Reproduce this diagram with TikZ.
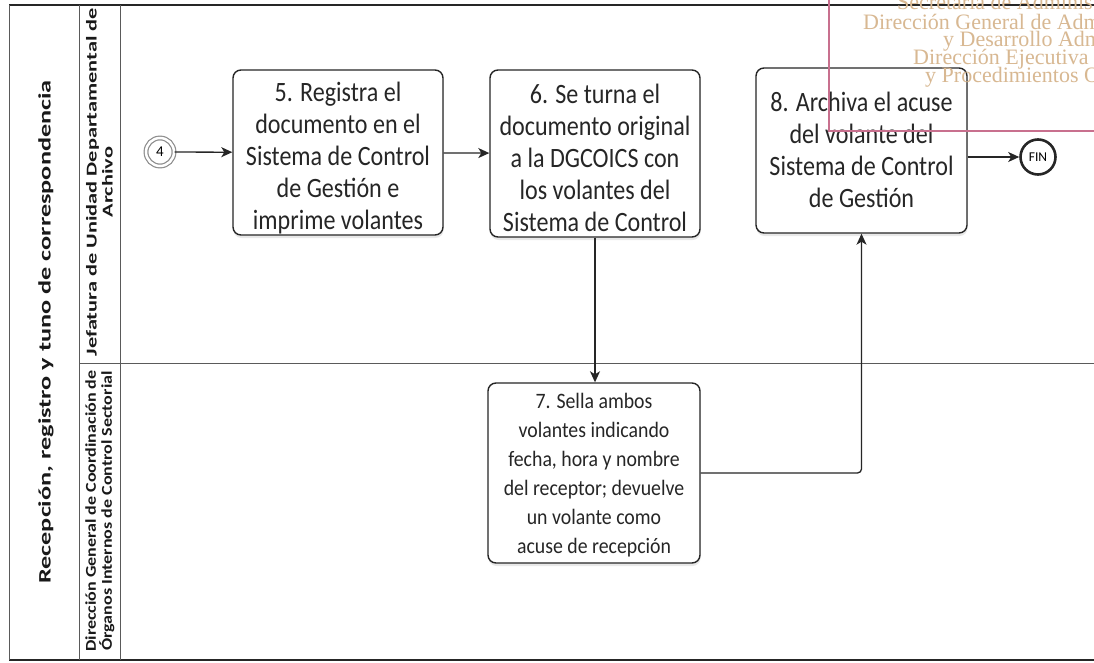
\documentclass[tikz,border=0pt]{standalone}
\usepackage{fontspec}
\setmainfont{Carlito}
\newfontfamily\boxfont[FakeStretch=0.86]{Carlito}
\newfontfamily\stampfont{Liberation Serif}
\usetikzlibrary{arrows.meta,shadows}
\definecolor{stampline}{RGB}{200,112,142}
\definecolor{stamptext}{RGB}{216,184,146}
\definecolor{framegray}{RGB}{90,90,90}

\tikzset{
  frameline/.style={draw=framegray, line width=0.9pt},
  topline/.style={draw=black!85, line width=1.6pt},
  stepbox/.style={draw=black!85, line width=1.4pt, rounded corners=8pt, fill=white,
    drop shadow={shadow xshift=0.5pt, shadow yshift=-3pt, opacity=0.18}},
  steptext/.style={align=center, inner sep=0pt, font=\boxfont\fontsize{28}{32}\selectfont, text=black!85},
  flow/.style={draw=black!85, line width=1.3pt, -{Stealth[length=11pt,width=10pt,inset=3pt]}},
  lanetext/.style={rotate=90, align=center, inner sep=0pt, text=black!90},
  stamp/.style={anchor=base west, inner sep=0pt, text=stamptext,
    font=\stampfont\fontsize{22}{18}\selectfont},
}

\begin{document}
\begin{tikzpicture}[x=1pt,y=-1pt]
\useasboundingbox (0,0) rectangle (1094,663);
\fill[white] (0,0) rectangle (1094,663);

% pool frame and lanes
\draw[topline] (9,5) -- (1094,5);
\draw[topline] (9,660) -- (1094,660);
\draw[frameline] (9,5) -- (9,660);
\draw[frameline] (79,5) -- (79,660);
\draw[frameline] (120,5) -- (120,660);
\draw[frameline] (79,363) -- (1094,363);

% pool and lane headers
\node[lanetext, font=\bfseries\fontsize{17.5}{18}\selectfont\addfontfeature{FakeStretch=1.5}]
  (pool) at (46,332) {Recepción, registro y tuno de correspondencia};
\node[lanetext, font=\bfseries\fontsize{15}{16}\selectfont\addfontfeature{FakeStretch=1.49}]
  (laneA) at (99.5,182) {Jefatura de Unidad Departamental de\\Archivo};
\node[lanetext, font=\bfseries\fontsize{15}{16}\selectfont\addfontfeature{FakeStretch=1.2}]
  (laneB) at (100,511) {Dirección General de Coordinación de\\Órganos Internos de Control Sectorial};

% events
\node[circle, draw=black!45, line width=1.2pt, double=white, double distance=2.5pt,
  minimum size=28pt, inner sep=0pt, font=\fontsize{15}{15}\selectfont] (c4) at (160,152) {4};
\node[circle, draw=black!85, line width=2.6pt, minimum size=35pt, inner sep=0pt,
  font=\fontsize{13.5}{13.5}\selectfont] (fin) at (1038,157) {FIN};

% tasks
\node[stepbox, minimum width=210pt, minimum height=165pt] (b5) at (338,152.5) {};
\node[steptext] (t5) at (338,158) {5. Registra el\\documento en el\\Sistema de Control\\de Gestión e\\imprime volantes};

\node[stepbox, minimum width=210pt, minimum height=167pt] (b6) at (595,153.5) {};
\node[steptext] (t6) at (595,158) {6. Se turna el\\documento original\\a la DGCOICS con\\los volantes del\\Sistema de Control};

\node[stepbox, minimum width=211pt, minimum height=165pt] (b8) at (861.5,150.5) {};
\node[steptext] (t8) at (861.5,150) {8. Archiva el acuse\\del volante del\\Sistema de Control\\de Gestión};

\node[stepbox, minimum width=212pt, minimum height=180pt] (b7) at (594,473) {};
\node[steptext, font=\addfontfeature{FakeStretch=0.9}\fontsize{22}{29}\selectfont] (t7) at (594,475)
  {7. Sella ambos\\volantes indicando\\fecha, hora y nombre\\del receptor; devuelve\\un volante como\\acuse de recepción};

% sequence flows
\draw[flow] (c4) -- (b5);
\draw[flow] (b5) -- (b6);
\draw[flow] (b6.south) -- (b6.south |- b7.north);
\draw[flow, rounded corners=4pt] (b7.east) -| (b8.south);
\draw[flow] (b8.east |- fin) -- (fin);

% reception stamp in the upper right corner
\begin{scope}
  \clip (0,0) rectangle (1094,663);
  \draw[stampline, line width=1.3pt] (829,-10) -- (829,131) -- (1110,131);
  \node[stamp] (s1) at (897,10) {Secretaría de Administración};
  \node[stamp] (s2) at (863,30) {Dirección General de Administración};
  \node[stamp] (s3) at (943,47) {y Desarrollo Administrativo};
  \node[stamp] (s4) at (913,65) {Dirección Ejecutiva de Dictaminación};
  \node[stamp] (s5) at (925,83) {y Procedimientos Organizacionales};
\end{scope}
\end{tikzpicture}
\end{document}
